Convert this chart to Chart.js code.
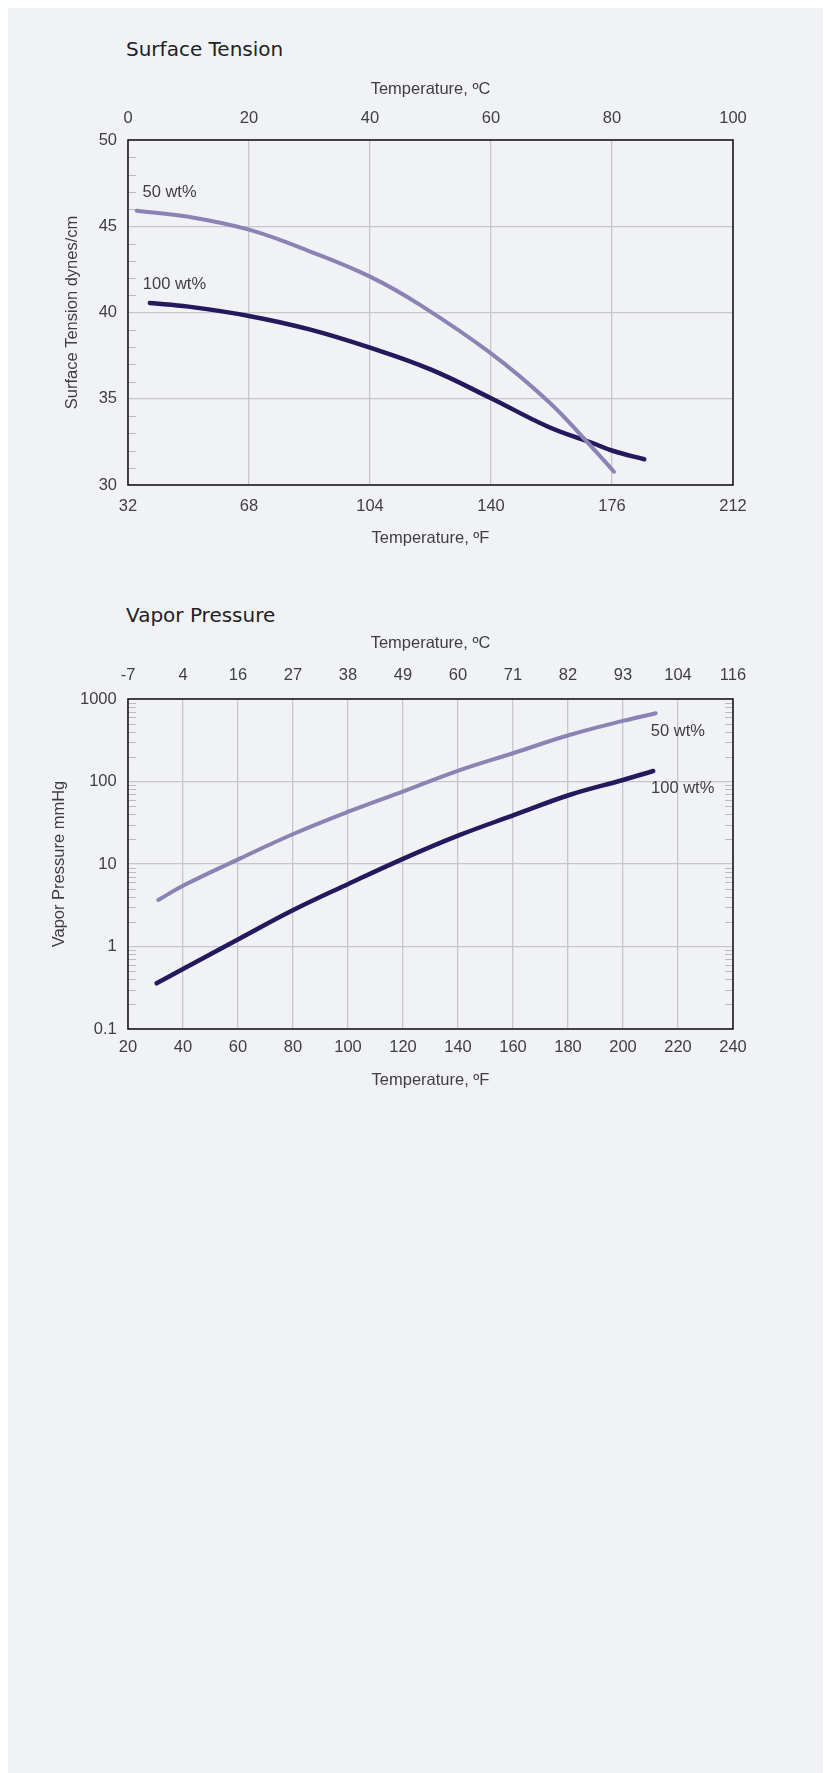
<!DOCTYPE html>
<html>
<head>
<meta charset="utf-8">
<script src="https://cdn.jsdelivr.net/npm/chart.js@4.4.0/dist/chart.umd.min.js"></script>
<style>
  html, body { margin: 0; padding: 0; background: #fff; }
  body { width: 827px; height: 1773px; position: relative; overflow: hidden; }
  .panel { position: absolute; left: 8px; top: 8px; width: 815px; height: 1765px; background: #f1f2f6; }
  .title { position: absolute; left: 126px; font-family: "DejaVu Sans", sans-serif; font-size: 20px; line-height: 24px; color: #222; }
  canvas { position: absolute; left: 0; }
</style>
</head>
<body>
<div class="panel"></div>
<div class="title" style="top:37px">Surface Tension</div>
<canvas id="tensionChart" width="827" height="500" style="top:60px"></canvas>
<div class="title" style="top:603px">Vapor Pressure</div>
<canvas id="vaporChart" width="827" height="480" style="top:625px"></canvas>
<script>
// surface tension, dynes/cm vs temperature (F)
const tensionTemp50 = [34.6, 50, 68, 86, 104, 119, 140, 157, 170, 176.6];
const tension50 = [45.9, 45.55, 44.8, 43.55, 42.08, 40.43, 37.63, 34.85, 32.2, 30.77];
const tensionTemp100 = [38.5, 50, 68, 86, 104, 122, 140, 157, 170, 176.4, 185.6];
const tension100 = [40.55, 40.34, 39.8, 39.02, 37.96, 36.7, 35.03, 33.38, 32.45, 31.97, 31.49];
const tensionFTicks = [32, 68, 104, 140, 176, 212];
const tensionCTicks = [0, 20, 40, 60, 80, 100];
const tensionYTicks = [30, 35, 40, 45, 50];

// vapor pressure, mmHg vs temperature (F)
const vaporTemp50 = [31, 40.5, 60.8, 80.1, 100.1, 120.4, 140.7, 160.5, 180.5, 200.3, 211.9];
const vapor50 = [3.66, 5.56, 11.7, 23.1, 43, 76.7, 137.6, 223, 366, 546, 671];
const vaporTemp100 = [30.4, 40.5, 60.8, 80.1, 100.1, 120.4, 140.7, 160.5, 180.5, 200.3, 211];
const vapor100 = [0.358, 0.544, 1.26, 2.77, 5.73, 11.7, 22.5, 39.3, 68.6, 105, 134];
const vaporFTicks = [20, 40, 60, 80, 100, 120, 140, 160, 180, 200, 220, 240];
const vaporCLabels = ["-7", "4", "16", "27", "38", "49", "60", "71", "82", "93", "104", "116"];
const vaporYTicks = [0.1, 1, 10, 100, 1000];

const FONT = "'Liberation Sans', Arial, sans-serif";
const TEXT = "#3f3f3f";
const GRID = "#c6c6cb";
const LIGHT = "#8b83b3";
const DARK = "#23195c";
const font = { family: FONT, size: 16.5, lineHeight: 1.2 };

function points(xs, ys) {
  return xs.map((x, i) => ({ x: x, y: ys[i] }));
}

function fixedTicks(list) {
  return (scale) => { scale.ticks = list.map(v => ({ value: v })); };
}

const tensionMinor = [];
for (let v = 31; v < 50; v++) if (v % 5 !== 0) tensionMinor.push(v);

const vaporMinor = [];
[0.1, 1, 10, 100].forEach(d => { for (let m = 2; m <= 9; m++) vaporMinor.push(m * d); });

// frame, minor ticks and curve labels
const frame = {
  id: "frame",
  beforeDatasetsDraw(chart, args, opts) {
    const { ctx, chartArea: a } = chart;
    const y = chart.scales.y;
    ctx.save();
    ctx.strokeStyle = "#b9b9be";
    ctx.lineWidth = 1;
    ctx.beginPath();
    opts.minor.forEach(v => {
      const py = Math.round(y.getPixelForValue(v)) + 0.5;
      ctx.moveTo(a.left, py);
      ctx.lineTo(a.left + 8, py);
      if (opts.rightTicks) {
        ctx.moveTo(a.right, py);
        ctx.lineTo(a.right - 8, py);
      }
    });
    ctx.stroke();
    ctx.strokeStyle = "#111";
    ctx.lineWidth = 1.5;
    ctx.strokeRect(a.left, a.top, a.right - a.left, a.bottom - a.top);
    ctx.restore();
  },
  afterDatasetsDraw(chart, args, opts) {
    const { ctx, scales } = chart;
    ctx.save();
    ctx.font = font.size + "px " + FONT;
    ctx.fillStyle = TEXT;
    ctx.textAlign = "left";
    ctx.textBaseline = "middle";
    opts.labels.forEach(l => {
      ctx.fillText(l.text, scales.x.getPixelForValue(l.x), scales.y.getPixelForValue(l.y));
    });
    ctx.restore();
  }
};

function lineSet(label, data, color, width) {
  return {
    label: label,
    data: data,
    borderColor: color,
    borderWidth: width,
    borderCapStyle: "round",
    pointRadius: 0,
    fill: false,
    tension: 0.4
  };
}

new Chart(document.getElementById("tensionChart"), {
  type: "line",
  data: {
    datasets: [
      lineSet("50 wt%", points(tensionTemp50, tension50), LIGHT, 4),
      lineSet("100 wt%", points(tensionTemp100, tension100), DARK, 4.5)
    ]
  },
  options: {
    responsive: false,
    animation: false,
    layout: { padding: { left: 0, right: 94, top: 0, bottom: 0 } },
    plugins: {
      legend: { display: false },
      tooltip: { enabled: false },
      frame: {
        minor: tensionMinor,
        rightTicks: false,
        labels: [
          { text: "50 wt%", x: 36.3, y: 46.94 },
          { text: "100 wt%", x: 36.4, y: 41.63 }
        ]
      }
    },
    scales: {
      x: {
        type: "linear",
        position: "bottom",
        min: 32,
        max: 212,
        afterBuildTicks: fixedTicks(tensionFTicks),
        afterFit: (s) => { s.height = 75; },
        grid: { color: GRID, lineWidth: 1.3, drawTicks: false },
        border: { display: false },
        ticks: { padding: 11.5, color: TEXT, font: font, maxRotation: 0, autoSkip: false },
        title: { display: true, text: "Temperature, ºF", color: TEXT, font: font, padding: { top: 0, bottom: 11.8 } }
      },
      x2: {
        type: "linear",
        position: "top",
        min: 0,
        max: 100,
        afterBuildTicks: fixedTicks(tensionCTicks),
        afterFit: (s) => { s.height = 80; },
        grid: { display: false, drawTicks: false },
        border: { display: false },
        ticks: { padding: 11.5, color: TEXT, font: font, maxRotation: 0, autoSkip: false },
        title: { display: true, text: "Temperature, ºC", color: TEXT, font: font, padding: { top: 19.8, bottom: 0 } }
      },
      y: {
        type: "linear",
        min: 30,
        max: 50,
        afterBuildTicks: fixedTicks(tensionYTicks),
        afterFit: (s) => { s.width = 128; },
        grid: { color: GRID, lineWidth: 1.3, drawTicks: false },
        border: { display: false },
        ticks: { padding: 11, color: TEXT, font: font },
        title: { display: true, text: "Surface Tension dynes/cm", color: TEXT, font: font, padding: { top: 62.8, bottom: 0 } }
      }
    }
  },
  plugins: [frame]
});

new Chart(document.getElementById("vaporChart"), {
  type: "line",
  data: {
    datasets: [
      lineSet("50 wt%", points(vaporTemp50, vapor50), LIGHT, 4),
      lineSet("100 wt%", points(vaporTemp100, vapor100), DARK, 4.5)
    ]
  },
  options: {
    responsive: false,
    animation: false,
    layout: { padding: { left: 0, right: 94, top: 0, bottom: 0 } },
    plugins: {
      legend: { display: false },
      tooltip: { enabled: false },
      frame: {
        minor: vaporMinor,
        rightTicks: true,
        labels: [
          { text: "50 wt%", x: 210.1, y: 402 },
          { text: "100 wt%", x: 210.2, y: 82.8 }
        ]
      }
    },
    scales: {
      x: {
        type: "linear",
        position: "bottom",
        min: 20,
        max: 240,
        afterBuildTicks: fixedTicks(vaporFTicks),
        afterFit: (s) => { s.height = 76; },
        grid: { color: GRID, lineWidth: 1.3, drawTicks: false },
        border: { display: false },
        ticks: { padding: 8.8, color: TEXT, font: font, maxRotation: 0, autoSkip: false },
        title: { display: true, text: "Temperature, ºF", color: TEXT, font: font, padding: { top: 0, bottom: 14.8 } }
      },
      x2: {
        type: "linear",
        position: "top",
        min: 20,
        max: 240,
        afterBuildTicks: fixedTicks(vaporFTicks),
        afterFit: (s) => { s.height = 74; },
        grid: { display: false, drawTicks: false },
        border: { display: false },
        ticks: {
          padding: 13.8, color: TEXT, font: font, maxRotation: 0, autoSkip: false,
          callback: (v, i) => vaporCLabels[i]
        },
        title: { display: true, text: "Temperature, ºC", color: TEXT, font: font, padding: { top: 8.4, bottom: 0 } }
      },
      y: {
        type: "logarithmic",
        min: 0.1,
        max: 1000,
        afterBuildTicks: fixedTicks(vaporYTicks),
        afterFit: (s) => { s.width = 128; },
        grid: { color: GRID, lineWidth: 1.3, drawTicks: false },
        border: { display: false },
        ticks: { padding: 11.3, color: TEXT, font: font, callback: (v) => String(v) },
        title: { display: true, text: "Vapor Pressure mmHg", color: TEXT, font: font, padding: { top: 49.8, bottom: 0 } }
      }
    }
  },
  plugins: [frame]
});
</script>
</body>
</html>
